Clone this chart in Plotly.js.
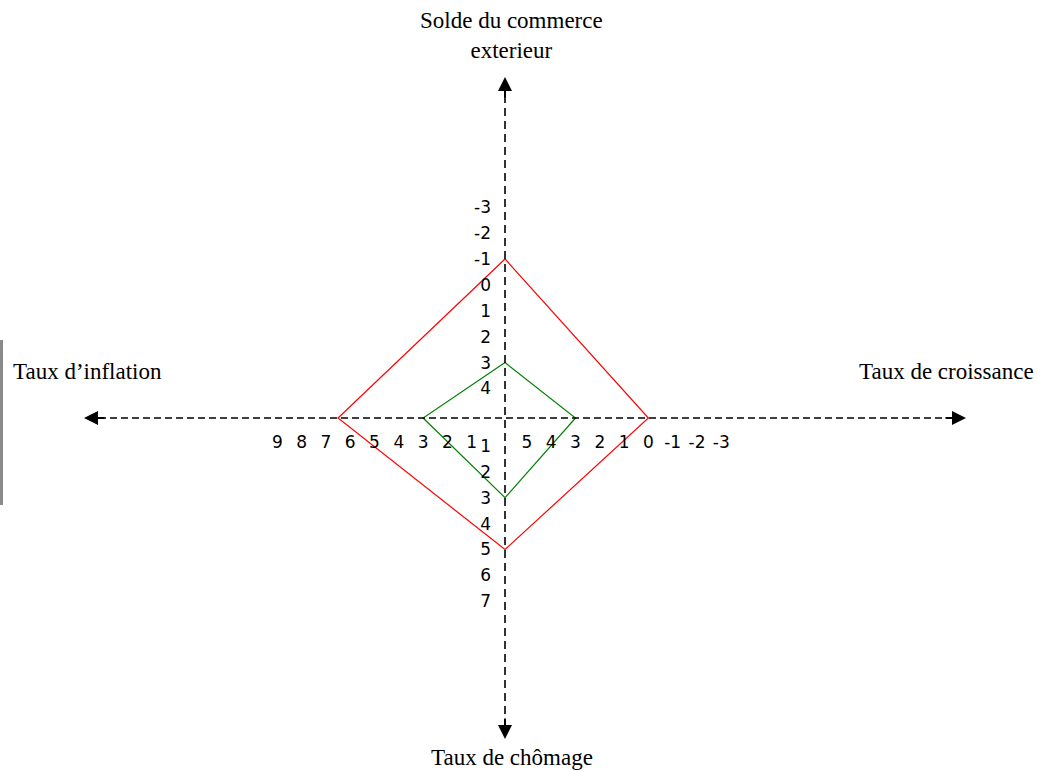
<!DOCTYPE html>
<html><head><meta charset="utf-8">
<script src="https://cdn.plot.ly/plotly-3.0.1.min.js"></script>
<style>html,body{margin:0;padding:0;background:#fff;overflow:hidden;}</style>
</head><body><div id="chart" style="width:1037px;height:772px;"></div>
<script>
// Axis titles (croissance, solde, inflation, chômage)
const axisNames = ["Taux de croissance", "Solde du commerce<br>exterieur", "Taux d\u2019inflation", "Taux de chômage"];
// Values per axis, order: croissance, solde extérieur, inflation, chômage
const redSquare = [0, -1, 6.5, 5];
const greenSquare = [3, 3, 3, 3];
// Tick labels along each half-axis
const growthTicks = [5, 4, 3, 2, 1, 0, -1, -2, -3];
const inflationTicks = [9, 8, 7, 6, 5, 4, 3, 2, 1];
const tradeTicks = [-3, -2, -1, 0, 1, 2, 3, 4];
const unemploymentTicks = [1, 2, 3, 4, 5, 6, 7];

// Scale mapping of each half-axis onto the shared cartesian plane
const xGrowth = g => 5.9 - g;
const xInflation = i => -(i + 0.37);
const yTrade = t => 5.14 - t;
const yUnemp = u => -(u + 0.08);

function squarePath(v) {
  const [g, t, i, u] = v;
  return {
    x: [0, xGrowth(g), 0, xInflation(i), 0],
    y: [yTrade(t), 0, yUnemp(u), 0, yTrade(t)]
  };
}
const W = 1037, H = 772;
const px = p => p / W, py = p => 1 - p / H;

const red = squarePath(redSquare), green = squarePath(greenSquare);
const traces = [
  {x: red.x, y: red.y, mode: 'lines', line: {color: '#ff0000', width: 1.2}, hoverinfo: 'skip', showlegend: false},
  {x: green.x, y: green.y, mode: 'lines', line: {color: '#008000', width: 1.2}, hoverinfo: 'skip', showlegend: false}
];

const xTickVals = inflationTicks.map(xInflation).concat(growthTicks.map(xGrowth));
const xTickText = inflationTicks.concat(growthTicks).map(String);
const yTickVals = tradeTicks.map(yTrade).concat(unemploymentTicks.map(yUnemp));
const yTickText = tradeTicks.concat(unemploymentTicks).map(String);

const tickFont = {family: 'DejaVu Sans, sans-serif', size: 17, color: '#000'};
const titleFont = {family: 'Liberation Serif, serif', size: 23, color: '#000'};

const layout = {
  width: W, height: H,
  margin: {l: 0, r: 0, t: 0, b: 0, pad: 0},
  paper_bgcolor: '#fff', plot_bgcolor: '#fff',
  showlegend: false,
  xaxis: {range: [-20.78, 21.89], showgrid: false, zeroline: false, showline: false,
    tickmode: 'array', tickvals: xTickVals, ticktext: xTickText, ticks: '',
    anchor: 'free', position: 354 / H, side: 'bottom', ticklabelstandoff: 12,
    tickfont: tickFont, tickangle: 0, fixedrange: true},
  yaxis: {range: [-13.67, 16.14], showgrid: false, zeroline: false, showline: false,
    tickmode: 'array', tickvals: yTickVals, ticktext: yTickText, ticks: '',
    anchor: 'free', position: 505 / W, side: 'left', ticklabelstandoff: 14,
    tickfont: tickFont, fixedrange: true},
  shapes: [
    {type: 'line', xref: 'paper', yref: 'y', x0: px(88), x1: px(962), y0: 0, y1: 0,
     line: {color: '#000', width: 1.6, dash: '7px,4px'}},
    {type: 'line', xref: 'x', yref: 'paper', x0: 0, x1: 0, y0: py(82), y1: py(734),
     line: {color: '#000', width: 1.6, dash: '8px,5px'}},
    {type: 'rect', xref: 'paper', yref: 'paper', x0: 0, x1: px(3), y0: py(340), y1: py(505),
     line: {width: 0}, fillcolor: '#8a8a8a'}
  ],
  annotations: [
    {xref: 'paper', yref: 'paper', x: px(511), y: py(35), text: axisNames[1], showarrow: false,
     font: titleFont, xanchor: 'center', yanchor: 'middle'},
    {xref: 'paper', yref: 'paper', x: px(11), y: py(372), text: axisNames[2], showarrow: false,
     font: titleFont, xanchor: 'left', yanchor: 'middle'},
    {xref: 'paper', yref: 'paper', x: px(1036), y: py(372), text: axisNames[0], showarrow: false,
     font: titleFont, xanchor: 'right', yanchor: 'middle'},
    {xref: 'paper', yref: 'paper', x: px(512), y: py(757), text: axisNames[3], showarrow: false,
     font: titleFont, xanchor: 'center', yanchor: 'middle'},
    // arrowheads
    {xref: 'paper', yref: 'paper', x: px(84), y: py(418), ax: 22, ay: 0, text: '', showarrow: true,
     arrowhead: 2, arrowsize: 1.4, arrowwidth: 2, arrowcolor: '#000'},
    {xref: 'paper', yref: 'paper', x: px(966), y: py(418), ax: -22, ay: 0, text: '', showarrow: true,
     arrowhead: 2, arrowsize: 1.4, arrowwidth: 2, arrowcolor: '#000'},
    {xref: 'paper', yref: 'paper', x: px(505), y: py(77), ax: 0, ay: 22, text: '', showarrow: true,
     arrowhead: 2, arrowsize: 1.4, arrowwidth: 2, arrowcolor: '#000'},
    {xref: 'paper', yref: 'paper', x: px(505), y: py(739), ax: 0, ay: -22, text: '', showarrow: true,
     arrowhead: 2, arrowsize: 1.4, arrowwidth: 2, arrowcolor: '#000'}
  ]
};

Plotly.newPlot('chart', traces, layout, {displayModeBar: false, staticPlot: true});
</script></body></html>
